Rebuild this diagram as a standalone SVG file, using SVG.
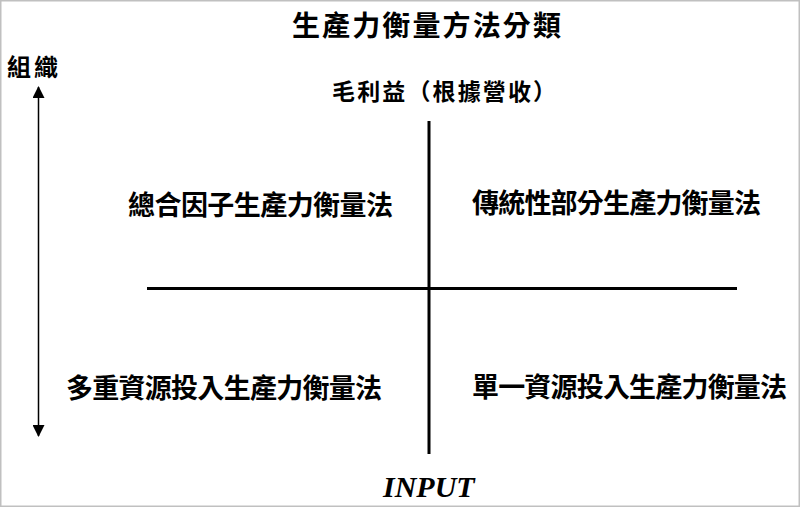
<svg xmlns="http://www.w3.org/2000/svg" width="800" height="507" viewBox="0 0 800 507">
<style>
.cjk{font-family:"Noto Sans CJK TC","Noto Sans CJK SC",sans-serif;fill:#000}
.t{font-size:28px;font-weight:700}
.h{font-size:23px;font-weight:700}
.q{font-size:27px;font-weight:700}
.ax{stroke:#000;stroke-width:3;fill:none}
</style>
<defs>
<marker id="ah" viewBox="0 0 12 12" refX="11" refY="6" markerWidth="12" markerHeight="12" markerUnits="userSpaceOnUse" orient="auto-start-reverse">
<path d="M0,0 L12,6 L0,12 z" fill="#000"/>
</marker>
</defs>
<rect x="0" y="0" width="800" height="507" fill="#fff"/>
<rect x="0.75" y="0.75" width="798.5" height="505.5" fill="none" stroke="#c0c0c0" stroke-width="1.5"/>
<g id="title"><text class="cjk t" x="292" y="36" textLength="269" lengthAdjust="spacing">生產力衡量方法分類</text></g>
<g id="axis-org"><text class="cjk" x="7" y="76" font-size="24" font-weight="700" textLength="51" lengthAdjust="spacing">組織</text></g>
<g id="axis-revenue"><text class="cjk h" x="332" y="100" textLength="224" lengthAdjust="spacing">毛利益（根據營收）</text></g>
<g id="axis-input"><text x="383" y="497" font-family="'Liberation Serif',serif" font-size="30" font-style="italic" font-weight="700">INPUT</text></g>
<g id="q-tl"><text class="cjk q" x="128" y="215" textLength="265" lengthAdjust="spacing">總合因子生產力衡量法</text></g>
<g id="q-tr"><text class="cjk q" x="472" y="213" textLength="289" lengthAdjust="spacing">傳統性部分生產力衡量法</text></g>
<g id="q-bl"><text class="cjk q" x="66" y="398" textLength="316" lengthAdjust="spacing">多重資源投入生產力衡量法</text></g>
<g id="q-br"><text class="cjk q" x="472" y="397" textLength="315" lengthAdjust="spacing">單一資源投入生產力衡量法</text></g>
<g id="connectors">
<line class="ax" x1="429" y1="121" x2="429" y2="454"/>
<line class="ax" x1="147" y1="288.5" x2="737" y2="288.5"/>
<line x1="38.5" y1="87" x2="38.5" y2="436" stroke="#000" stroke-width="1.5" marker-start="url(#ah)" marker-end="url(#ah)"/>
</g>
</svg>
